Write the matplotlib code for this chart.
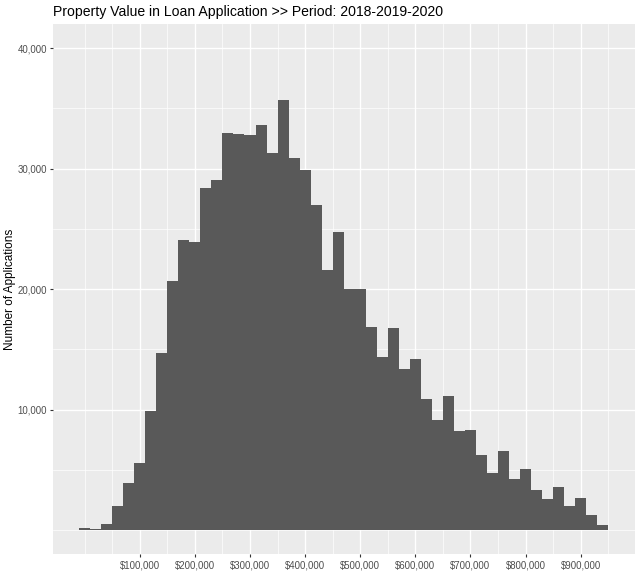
import numpy as np
import matplotlib
matplotlib.use("Agg")
import matplotlib.pyplot as plt
from matplotlib.ticker import FuncFormatter

plt.rcParams['font.family'] = ['Liberation Sans', 'DejaVu Sans']

# histogram of property values, bins of $20,000 starting at -$10,000
bin_start = -10000
bin_width = 20000
counts = [170, 60, 500, 1970, 3930, 5540, 9920, 14740, 20700, 24050,
          23880, 28370, 29040, 32920, 32880, 32810, 33610, 31260, 35690, 30920,
          29900, 26960, 21610, 24770, 20030, 20030, 16850, 14410, 16800, 13360,
          14210, 10920, 9140, 11140, 8230, 8340, 6230, 4710, 6600, 4210,
          5070, 3300, 2600, 3600, 2000, 2660, 1250, 470]

x_breaks = [100000, 200000, 300000, 400000, 500000, 600000, 700000, 800000, 900000]
y_breaks = [10000, 20000, 30000, 40000]
x_minor = [0, 50000, 150000, 250000, 350000, 450000, 550000, 650000, 750000, 850000, 950000]
y_minor = [0, 5000, 15000, 25000, 35000]

title = "Property Value in Loan Application >> Period: 2018-2019-2020"
ylabel = "Number of Applications"

edges = bin_start + bin_width * np.arange(len(counts) + 1)

fig = plt.figure(figsize=(6.4, 5.88), dpi=100)
ax = fig.add_axes([52.7 / 640, 1 - 554.3 / 588, (634.7 - 52.7) / 640, (554.3 - 24) / 588])
ax.set_facecolor('#EBEBEB')
for s in ax.spines.values():
    s.set_visible(False)

ax.bar(edges[:-1], counts, width=bin_width, align='edge', color='#595959', linewidth=0, zorder=3)

lo, hi = edges[0], edges[-1]
pad = (hi - lo) * 0.05
ax.set_xlim(lo - pad, hi + pad)
ax.set_ylim(-2000, 42000)

ax.set_xticks(x_breaks)
ax.set_yticks(y_breaks)
ax.set_xticks(x_minor, minor=True)
ax.set_yticks(y_minor, minor=True)
ax.xaxis.set_major_formatter(FuncFormatter(lambda v, p: "${:,.0f}".format(v)))
ax.yaxis.set_major_formatter(FuncFormatter(lambda v, p: "{:,.0f}".format(v)))

ax.grid(which='major', color='white', linewidth=1.0, zorder=0)
ax.grid(which='minor', color='white', linewidth=0.5, zorder=0)
ax.set_axisbelow(True)
ax.tick_params(which='major', length=2.2, width=0.8, color='#333333',
               labelsize=6.9, labelcolor='#4D4D4D', pad=2)
ax.tick_params(which='minor', length=0)

fig.text(53 / 640, 1 - 12 / 588, title, fontsize=10.1, color='black', ha='left', va='center')
fig.text(10 / 640, 1 - 289 / 588, ylabel, fontsize=8.5, color='black', rotation=90,
         ha='center', va='center')

fig.savefig('out.png', dpi=100)
